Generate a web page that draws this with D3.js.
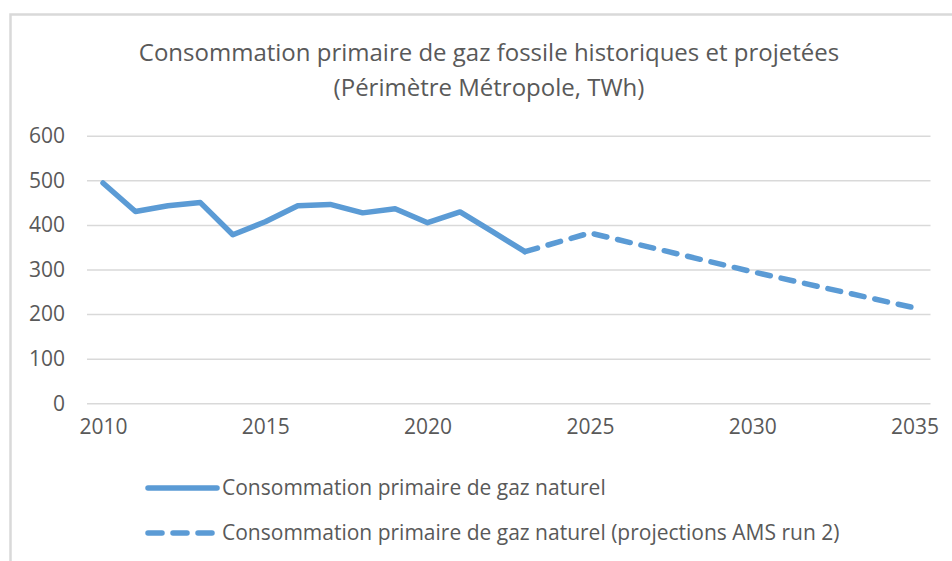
<!DOCTYPE html>
<html>
<head>
<meta charset="utf-8">
<script src="https://cdn.jsdelivr.net/npm/d3@7"></script>
<style>
  html, body { margin: 0; padding: 0; background: #fff; }
  svg text { font-family: 'Open Sans', sans-serif; fill: #595959; }
</style>
</head>
<body>
<div id="chart_line"></div>
<script>
// historique
const histYears = [2010, 2011, 2012, 2013, 2014, 2015, 2016, 2017, 2018, 2019, 2020, 2021, 2022, 2023];
const histValues = [494, 430, 443, 450, 378, 407, 443, 446, 427, 436, 405, 429, 385, 340];

// projections AMS run 2
const projYears = [2023, 2025, 2030, 2035];
const projValues = [340, 382, 295, 214];

const xTicks = [2010, 2015, 2020, 2025, 2030, 2035];
const yTicks = [0, 100, 200, 300, 400, 500, 600];

const titleLines = [
  'Consommation primaire de gaz fossile historiques et projetées',
  '(Périmètre Métropole, TWh)',
];
const legendLabels = [
  'Consommation primaire de gaz naturel',
  'Consommation primaire de gaz naturel (projections AMS run 2)',
];

const svgWidth = 952;
const svgHeight = 561;
const blue = '#5b9bd5';

const svg = d3.select('#chart_line').append('svg')
  .attr('width', svgWidth)
  .attr('height', svgHeight)
;

// cadre (haut + gauche seulement visibles)
svg.append('path')
  .attr('d', `M10.5,${svgHeight} V14.5 H${svgWidth}`)
  .attr('fill', 'none')
  .attr('stroke', '#d9d9d9')
  .attr('stroke-width', 2.5)
;

svg.append('g')
  .attr('class', 'title')
  .selectAll('text')
  .data(titleLines)
  .join('text')
  .attr('x', 489)
  .attr('y', (d, i) => 61 + i * 35)
  .attr('text-anchor', 'middle')
  .style('font-size', '24px')
  .text(d => d)
;

const x = d3.scaleLinear()
  .domain([2010, 2035])
  .range([103, 914.5])
;
const y = d3.scaleLinear()
  .domain([0, 600])
  .range([403.3, 135.7])
;

// grille
svg.append('g')
  .attr('class', 'grid')
  .attr('transform', 'translate(87,0)')
  .call(
    d3.axisLeft(y)
      .tickValues(yTicks)
      .tickSize(-(930.5 - 87))
      .tickPadding(22)
      .tickFormat(d3.format('d'))
  )
  .call(g => g.select('.domain').remove())
  .call(g => g.selectAll('.tick line')
    .attr('stroke', '#d9d9d9')
    .attr('stroke-width', 1.5))
  .call(g => g.selectAll('.tick text')
    .attr('fill', '#595959')
    .style('font-size', '21px'))
;

svg.append('g')
  .attr('class', 'domain-x')
  .attr('transform', 'translate(0,403.3)')
  .call(
    d3.axisBottom(x)
      .tickValues(xTicks)
      .tickSize(0)
      .tickPadding(16)
      .tickFormat(d3.format('d'))
  )
  .call(g => g.select('.domain').remove())
  .call(g => g.selectAll('.tick text')
    .attr('fill', '#595959')
    .style('font-size', '21px'))
;

const line = d3.line()
  .x(d => x(d[0]))
  .y(d => y(d[1]))
;

svg.append('path')
  .datum(d3.zip(histYears, histValues))
  .attr('fill', 'none')
  .attr('stroke', blue)
  .attr('stroke-width', 5.5)
  .attr('stroke-linejoin', 'round')
  .attr('stroke-linecap', 'round')
  .attr('d', line)
;

svg.append('path')
  .datum(d3.zip(projYears, projValues))
  .attr('fill', 'none')
  .attr('stroke', blue)
  .attr('stroke-width', 5.5)
  .attr('stroke-linejoin', 'round')
  .attr('stroke-linecap', 'round')
  .attr('stroke-dasharray', '13,11')
  .attr('d', line)
;

// légende
const legend = svg.append('g')
  .attr('class', 'legend')
  .selectAll('g')
  .data(legendLabels)
  .join('g')
  .attr('transform', (d, i) => `translate(0,${488 + i * 45})`)
;

legend.append('line')
  .attr('x1', 148)
  .attr('x2', 217)
  .attr('stroke', blue)
  .attr('stroke-width', 5.5)
  .attr('stroke-linecap', 'round')
  .attr('stroke-dasharray', (d, i) => i === 0 ? null : '14,11')
;

legend.append('text')
  .attr('x', 222)
  .attr('dy', '0.35em')
  .style('font-size', '21px')
  .text(d => d)
;
</script>
</body>
</html>
